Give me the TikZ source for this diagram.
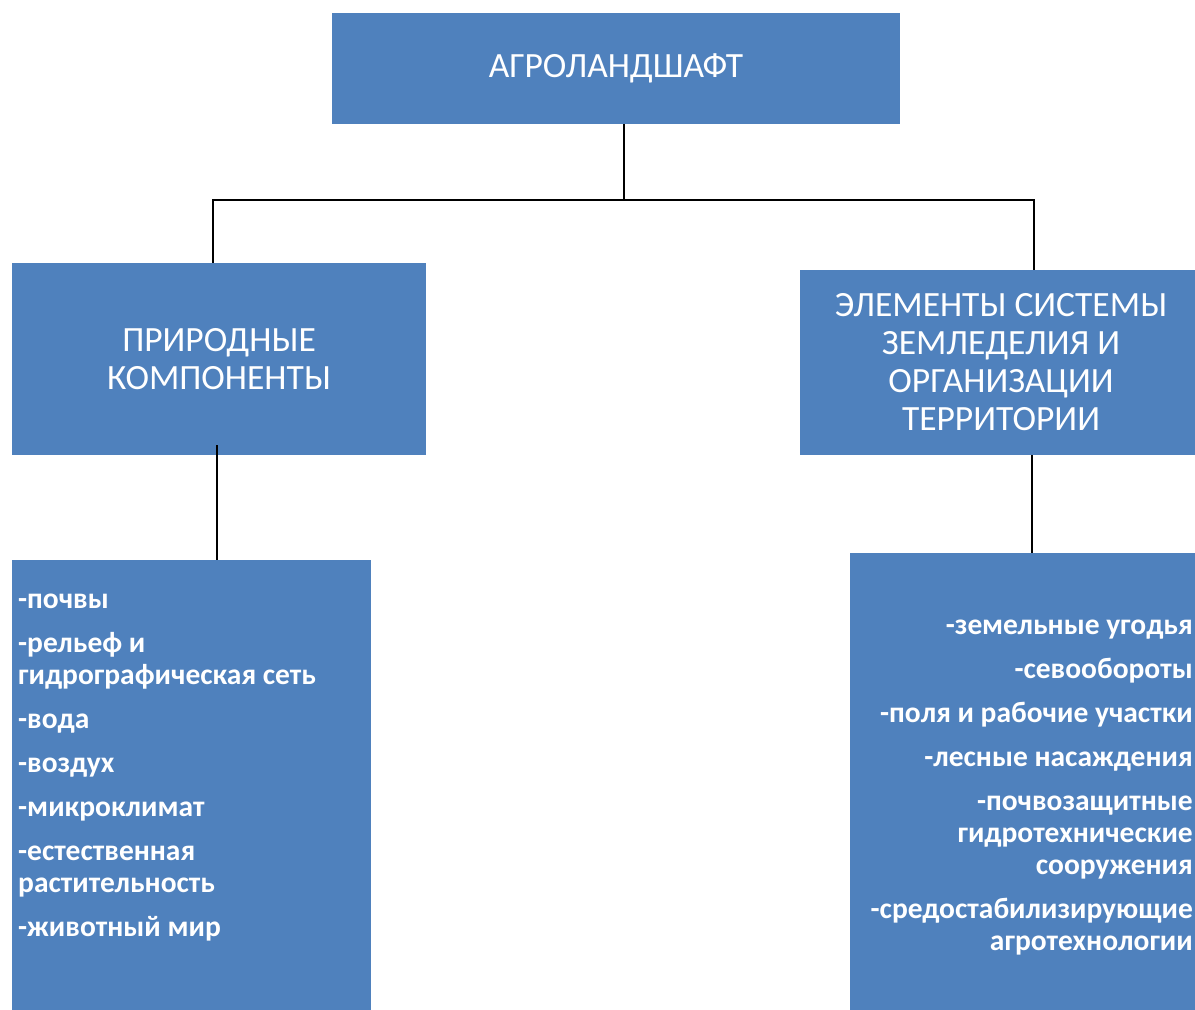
\documentclass[tikz,border=0pt]{standalone}
\usepackage{fontspec}
\setmainfont{Carlito}
\usepackage{tikz}
\usetikzlibrary{positioning}
\definecolor{boxblue}{HTML}{4F81BD}
\definecolor{ink}{HTML}{000000}
\tikzset{
  head/.style    = {rectangle, fill=boxblue, text=white, align=center,
                    inner sep=0pt, font=\fontsize{35.5}{38}\selectfont},
  listbox/.style = {rectangle, fill=boxblue, inner sep=0pt},
  items/.style   = {inner sep=0pt, text=white, font=\fontsize{29.5}{32}\selectfont\bfseries},
  link/.style    = {draw=ink, line width=2pt},
}

\begin{document}
\begin{tikzpicture}[x=1pt, y=-1pt]
  \useasboundingbox (0,0) rectangle (1195,1010);
  \clip (0,0) rectangle (1195,1010);

  % Root
  \node[head, minimum width=568pt, minimum height=111pt] (agro) at (616,68.5) {АГРОЛАНДШАФТ};

  % Second level
  \node[head, minimum width=414pt, minimum height=192pt] (nat) at (219,359)
       {ПРИРОДНЫЕ\\КОМПОНЕНТЫ};
  \node[head, minimum width=402pt, minimum height=185pt] (sys) at (1001,362.5)
       {ЭЛЕМЕНТЫ СИСТЕМЫ\\ЗЕМЛЕДЕЛИЯ И\\ОРГАНИЗАЦИИ\\ТЕРРИТОРИИ};

  % Lists
  \node[listbox, minimum width=359pt, minimum height=470pt] (natbox) at (191.5,795) {};
  \node[listbox, minimum width=364pt, minimum height=477pt] (sysbox) at (1032,791.5) {};

  \node[items, align=left, anchor=north west] (natitems) at (18,586)
       {\strut-почвы\\[12pt]
        -рельеф и\\
        гидрографическая сеть\\[12pt]
        -вода\\[12pt]
        -воздух\\[12pt]
        -микроклимат\\[12pt]
        -естественная\\
        растительность\\[12pt]
        -животный мир};
  \node[items, align=right, anchor=north east] (sysitems) at (1193,612)
       {\strut-земельные угодья\\[12pt]
        -севообороты\\[12pt]
        -поля и рабочие участки\\[12pt]
        -лесные насаждения\\[12pt]
        -почвозащитные\\
        гидротехнические\\
        сооружения\\[12pt]
        -средостабилизирующие\\
        агротехнологии};

  % Connectors
  \coordinate (fork) at (624,200);
  \draw[link] (agro.south -| fork) -- (fork);
  \draw[link] (fork) -| ([xshift=-6pt]nat.north);
  \draw[link] (fork) -| ([xshift=33pt]sys.north);
  \draw[link] ([shift={(-2pt,10pt)}]nat.south) -- ([xshift=-2pt]nat.south |- natbox.north);
  \draw[link] ([xshift=31pt]sys.south) -- ([xshift=31pt]sys.south |- sysbox.north);

\end{tikzpicture}
\end{document}
